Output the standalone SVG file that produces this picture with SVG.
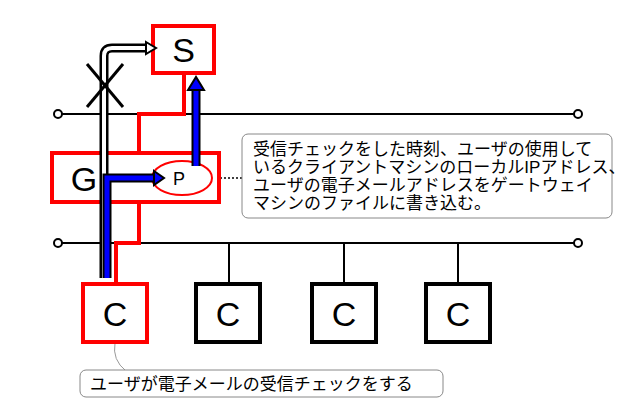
<svg xmlns="http://www.w3.org/2000/svg" width="634" height="420" viewBox="0 0 634 420">
<style>
.t{font-family:"Liberation Sans","Noto Sans CJK JP",sans-serif;fill:#000}
.big{font-size:34px}
.j{font-size:17px}
.red{fill:#fff;stroke:#f00;stroke-width:4}
.blk{fill:#fff;stroke:#000;stroke-width:4}
.ln{fill:none;stroke:#000;stroke-width:2}
.rl{fill:none;stroke:#f00;stroke-width:4}
</style>
<rect width="634" height="420" fill="#fff"/>
<g id="connectors">
<line class="ln" x1="62" y1="114" x2="574" y2="114"/>
<circle cx="58" cy="114" r="4" fill="#fff" stroke="#000" stroke-width="2"/>
<circle cx="578" cy="114" r="4" fill="#fff" stroke="#000" stroke-width="2"/>
<line class="ln" x1="62" y1="243" x2="574" y2="243"/>
<circle cx="58" cy="243" r="4" fill="#fff" stroke="#000" stroke-width="2"/>
<circle cx="578" cy="243" r="4" fill="#fff" stroke="#000" stroke-width="2"/>
<polyline class="rl" points="184,73 184,114 139,114 139,153"/>
<polyline class="rl" points="139,202 139,243 116,243 116,283"/>
<line class="ln" x1="229" y1="243" x2="229" y2="284"/>
<line class="ln" x1="344" y1="243" x2="344" y2="284"/>
<line class="ln" x1="458" y1="243" x2="458" y2="284"/>
<path d="M212,178 H242" fill="none" stroke="#000" stroke-width="1.5" stroke-dasharray="2,2"/>
<path d="M115,343 Q112,360 126,371" fill="none" stroke="#999" stroke-width="1"/>
</g>
<g id="S"><rect class="red" x="153" y="26" width="61" height="47"/><text class="t big" x="183.5" y="62" text-anchor="middle">S</text></g>
<g id="G"><rect class="red" x="52" y="153" width="167" height="49"/><text class="t big" x="84" y="191" text-anchor="middle">G</text>
<ellipse cx="182" cy="178" rx="30" ry="17" fill="#fff" stroke="#f00" stroke-width="2"/>
<text class="t" font-size="18" x="179" y="185" text-anchor="middle">P</text></g>
<g id="C1"><rect class="red" x="83" y="284" width="64" height="58"/><text class="t big" x="115" y="326" text-anchor="middle">C</text></g>
<g id="C2"><rect class="blk" x="196" y="284" width="64" height="58"/><text class="t big" x="228" y="326" text-anchor="middle">C</text></g>
<g id="C3"><rect class="blk" x="312" y="284" width="64" height="58"/><text class="t big" x="344" y="326" text-anchor="middle">C</text></g>
<g id="C4"><rect class="blk" x="426" y="284" width="64" height="58"/><text class="t big" x="458" y="326" text-anchor="middle">C</text></g>
<g id="flow">
<path d="M104,278 V56 Q104,48 112,48 H148" fill="none" stroke="#000" stroke-width="9"/>
<path d="M104,278 V56 Q104,48 112,48 H148" fill="none" stroke="#fff" stroke-width="4"/>
<polygon points="146,42 156,48 146,54" fill="#fff" stroke="#000" stroke-width="2"/>
<line x1="87" y1="64" x2="123" y2="107" stroke="#000" stroke-width="3"/>
<line x1="123" y1="64" x2="87" y2="107" stroke="#000" stroke-width="3"/>
<path d="M107,278 V178 H156 M196,166 V88" fill="none" stroke="#000" stroke-width="9"/>
<path d="M107,278 V178 H156 M196,166 V88" fill="none" stroke="#00f" stroke-width="5"/>
<polygon points="154,171 164,178 154,185" fill="#00f" stroke="#000" stroke-width="2"/>
<polygon points="188,90 196,77 204,90" fill="#00f" stroke="#000" stroke-width="2"/>
</g>
<g id="note1"><rect x="242" y="134" width="370" height="84" rx="6" fill="#fff" stroke="#888" stroke-width="1"/>
<text class="t j" x="253" y="155">受信チェックをした時刻、ユーザの使用して</text>
<text class="t j" x="253" y="173">いるクライアントマシンのローカルIPアドレス、</text>
<text class="t j" x="253" y="191">ユーザの電子メールアドレスをゲートウェイ</text>
<text class="t j" x="253" y="209">マシンのファイルに書き込む。</text></g>
<g id="note2"><rect x="80" y="370" width="363" height="27" rx="6" fill="#fff" stroke="#888" stroke-width="1"/>
<text class="t j" x="90" y="390">ユーザが電子メールの受信チェックをする</text></g>
</svg>
